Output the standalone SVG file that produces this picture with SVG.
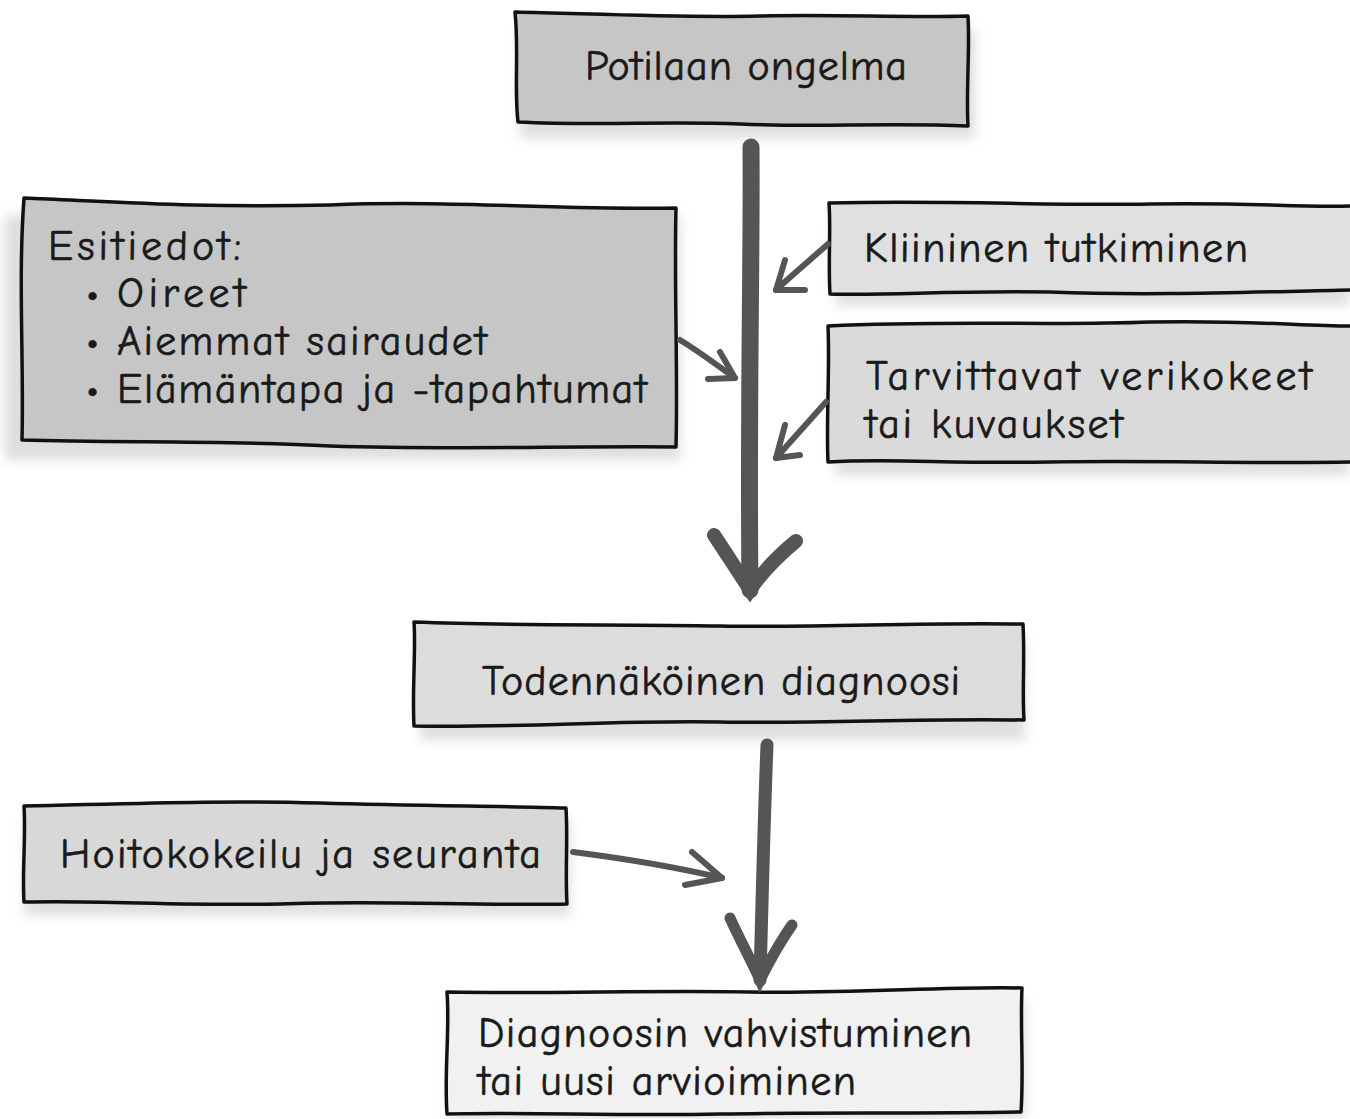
<svg xmlns="http://www.w3.org/2000/svg" width="1350" height="1119" viewBox="0 0 1350 1119">
<style>
.box{stroke:#111;stroke-width:3.5;stroke-linejoin:round}
.shadow{fill:#bdbdbd;opacity:0.5}
.t{font-family:"Comic Neue","Liberation Sans",sans-serif;font-size:42px;fill:#1a1a1a;stroke:#1a1a1a;stroke-width:0.6}
.main{stroke:#555;stroke-linecap:round;fill:none}
.small{stroke:#555;stroke-width:6;stroke-linecap:round;stroke-linejoin:round;fill:none}
</style>
<defs>
<filter id="blur" x="-10%" y="-30%" width="120%" height="160%"><feGaussianBlur stdDeviation="6"/></filter>
</defs>
<rect width="1350" height="1119" fill="#fff"/>

<g id="n1">
<rect class="shadow" filter="url(#blur)" x="520" y="30" width="455" height="108"/>
<path class="box" fill="#c6c6c6" d="M515,12 C600,14 680,18 760,16 C840,14 900,18 968,16 C970,50 966,90 968,126 C880,122 820,128 740,124 C660,121 600,126 518,122 C514,90 519,50 515,12 Z"/>
<text class="t" x="746" y="80" text-anchor="middle" textLength="322">Potilaan ongelma</text>
</g>

<g id="n2">
<rect class="shadow" filter="url(#blur)" x="5" y="215" width="675" height="245"/>
<path class="box" fill="#c6c6c6" d="M24,198 C120,202 200,208 330,205 C450,200 560,210 676,208 C674,280 678,370 676,447 C560,446 450,450 330,446 C220,440 120,443 22,440 C24,360 18,280 24,198 Z"/>
<text class="t" x="48" y="260" textLength="193">Esitiedot:</text>
<text class="t" x="86" y="307">•</text>
<text class="t" x="117" y="307" textLength="129">Oireet</text>
<text class="t" x="86" y="355">•</text>
<text class="t" x="117" y="355" textLength="370">Aiemmat sairaudet</text>
<text class="t" x="86" y="403">•</text>
<text class="t" x="117" y="403" textLength="530">Elämäntapa ja -tapahtumat</text>
</g>

<g id="n3">
<rect class="shadow" filter="url(#blur)" x="835" y="215" width="515" height="90"/>
<path class="box" fill="#e0e0e0" d="M829,203 C950,200 1050,206 1150,204 C1250,202 1300,208 1352,206 L1352,290 C1250,292 1150,296 1050,292 C950,290 890,296 830,294 C828,260 831,230 829,203 Z"/>
<text class="t" x="864" y="262" textLength="384">Kliininen tutkiminen</text>
</g>

<g id="n4">
<rect class="shadow" filter="url(#blur)" x="835" y="340" width="515" height="135"/>
<path class="box" fill="#dadada" d="M828,326 C950,320 1050,326 1150,322 C1250,320 1300,326 1352,326 L1352,462 C1250,464 1150,460 1050,462 C950,464 890,458 828,462 C826,420 830,370 828,326 Z"/>
<text class="t" x="866" y="390" textLength="446">Tarvittavat verikokeet</text>
<text class="t" x="865" y="438" textLength="258">tai kuvaukset</text>
</g>

<g id="n5">
<rect class="shadow" filter="url(#blur)" x="420" y="640" width="605" height="100"/>
<path class="box" fill="#dcdcdc" d="M414,622 C520,626 620,624 720,626 C820,628 920,622 1023,624 C1025,660 1022,690 1024,720 C920,718 820,724 720,722 C620,720 520,728 414,726 C412,690 416,650 414,622 Z"/>
<text class="t" x="482" y="695" textLength="478">Todennäköinen diagnoosi</text>
</g>

<g id="n6">
<rect class="shadow" filter="url(#blur)" x="25" y="820" width="545" height="95"/>
<path class="box" fill="#d8d8d8" d="M24,806 C120,804 220,800 320,803 C420,806 500,806 566,808 C568,840 565,870 567,904 C470,906 380,900 280,904 C180,906 100,900 24,902 C22,870 26,840 24,806 Z"/>
<text class="t" x="60" y="868" textLength="481">Hoitokokeilu ja seuranta</text>
</g>

<g id="n7">
<rect class="shadow" filter="url(#blur)" x="450" y="1000" width="575" height="119" opacity="0.6"/>
<path class="box" fill="#f1f1f1" d="M447,992 C550,994 650,990 750,992 C850,994 950,986 1022,988 C1020,1030 1024,1070 1021,1112 C920,1114 820,1112 720,1114 C620,1116 520,1112 447,1114 C444,1070 450,1030 447,992 Z"/>
<text class="t" x="478" y="1047" textLength="494">Diagnoosin vahvistuminen</text>
<text class="t" x="478" y="1095" textLength="378">tai uusi arvioiminen</text>
</g>

<g id="connectors">
<path class="main" stroke-width="17" d="M751,147 C752,250 748,400 750,590"/>
<path class="main" stroke-width="14" d="M714,535 C728,556 740,575 750,590 C762,572 778,556 796,541"/>
<path class="small" d="M828,244 C810,260 792,275 776,290"/>
<path class="small" d="M785,260 L776,290 L805,290"/>
<path class="small" d="M826,402 C810,420 792,440 776,458"/>
<path class="small" d="M785,425 L776,458 L800,455"/>
<path class="small" d="M680,340 C700,352 718,366 735,378"/>
<path class="small" d="M720,352 L735,378 L708,379"/>
<path class="main" stroke-width="13" d="M767,745 C764,820 762,900 760,980"/>
<path class="main" stroke-width="11" d="M730,918 C740,940 752,962 760,980 C770,960 780,942 792,925"/>
<path class="small" d="M573,852 C620,858 680,868 722,878"/>
<path class="small" d="M692,852 L722,878 L685,885"/>
</g>
</svg>
